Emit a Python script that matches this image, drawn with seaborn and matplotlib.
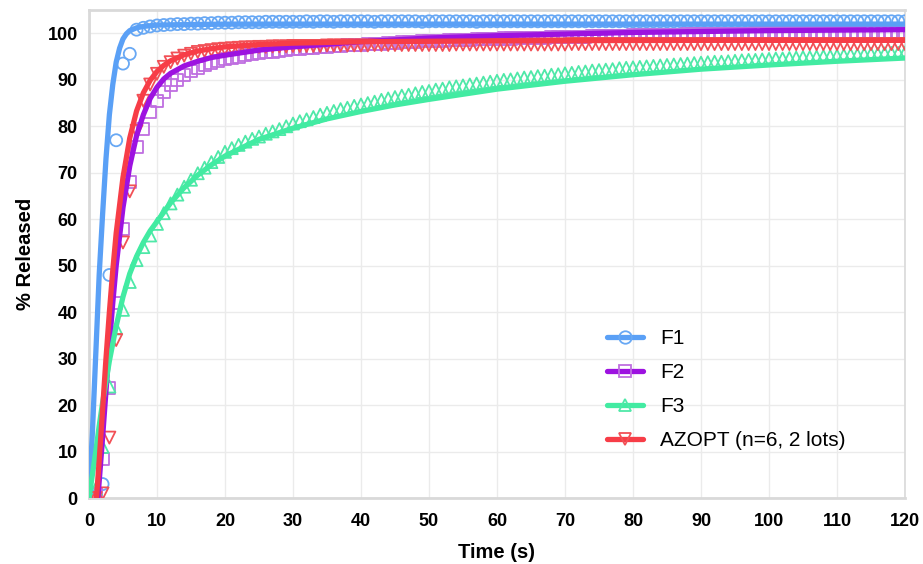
import matplotlib
matplotlib.use("Agg")
import matplotlib.pyplot as plt
from matplotlib.lines import Line2D
import seaborn as sns
import pandas as pd

# ---------------- data ----------------
time_s = list(range(0, 121))

f1_obs = [0, 0.5, 3, 48, 77, 93.5, 95.6, 100.8, 101.2, 101.5,
          101.7, 101.8, 101.9, 102.0, 102.0, 102.1, 102.1, 102.2, 102.2, 102.3,
          102.3, 102.3, 102.4, 102.4, 102.4, 102.4, 102.5, 102.5, 102.5, 102.5,
          102.5, 102.5, 102.6, 102.5, 102.6, 102.6, 102.5, 102.6, 102.6, 102.6,
          102.6, 102.6, 102.5, 102.6, 102.6, 102.6, 102.6, 102.6, 102.6, 102.5,
          102.6, 102.6, 102.6, 102.6, 102.6, 102.6, 102.6, 102.5, 102.6, 102.6,
          102.6, 102.6, 102.6, 102.6, 102.6, 102.6, 102.6, 102.6, 102.6, 102.6,
          102.6, 102.6, 102.6, 102.6, 102.6, 102.6, 102.6, 102.6, 102.6, 102.6,
          102.6, 102.6, 102.6, 102.6, 102.6, 102.6, 102.6, 102.6, 102.6, 102.6,
          102.6, 102.6, 102.6, 102.6, 102.6, 102.6, 102.6, 102.6, 102.6, 102.6,
          102.6, 102.6, 102.6, 102.6, 102.6, 102.6, 102.6, 102.6, 102.6, 102.6,
          102.6, 102.6, 102.6, 102.6, 102.6, 102.6, 102.6, 102.6, 102.6, 102.6,
          102.6]

f2_obs = [0, 0.8, 8.5, 23.7, 42, 58, 68, 75.5, 79.5, 83,
          85.5, 87.3, 88.8, 90.0, 91.0, 91.8, 92.5, 93.1, 93.6, 94.0,
          94.4, 94.7, 95.0, 95.3, 95.5, 95.7, 95.9, 96.1, 96.3, 96.4,
          96.6, 96.7, 96.8, 96.9, 97.0, 97.1, 97.2, 97.3, 97.4, 97.5,
          97.6, 97.7, 97.8, 97.8, 97.9, 98.0, 98.1, 98.1, 98.2, 98.3,
          98.3, 98.4, 98.4, 98.5, 98.5, 98.6, 98.6, 98.7, 98.7, 98.8,
          98.8, 98.9, 98.9, 99.0, 99.0, 99.0, 99.1, 99.1, 99.2, 99.2,
          99.2, 99.3, 99.3, 99.3, 99.4, 99.4, 99.4, 99.5, 99.5, 99.5,
          99.6, 99.6, 99.6, 99.6, 99.7, 99.7, 99.7, 99.7, 99.8, 99.8,
          99.8, 99.8, 99.8, 99.9, 99.9, 99.9, 99.9, 99.9, 100.0, 100.0,
          100.0, 100.0, 100.0, 100.0, 100.0, 100.1, 100.1, 100.1, 100.1, 100.1,
          100.1, 100.1, 100.1, 100.1, 100.2, 100.2, 100.2, 100.2, 100.2, 100.2,
          100.2]

f3_obs = [0, 2, 11, 24, 36.5, 40.5, 46.5, 51.2, 54, 56.5,
          59, 61.3, 63.4, 65.3, 67, 68.5, 69.9, 71.1, 72.3, 73.4,
          74.5, 75.3, 76.0, 76.7, 77.3, 77.8, 78.4, 78.9, 79.4, 80.0,
          80.6, 81.1, 81.5, 82.0, 82.5, 82.9, 83.3, 83.7, 84.0, 84.4,
          84.7, 85.0, 85.3, 85.7, 86.0, 86.3, 86.6, 86.8, 87.1, 87.4,
          87.6, 87.9, 88.1, 88.4, 88.6, 88.8, 89.0, 89.2, 89.4, 89.6,
          89.8, 90.0, 90.1, 90.3, 90.5, 90.6, 90.8, 90.9, 91.1, 91.2,
          91.4, 91.5, 91.7, 91.8, 92.0, 92.1, 92.2, 92.3, 92.5, 92.6,
          92.7, 92.8, 92.9, 93.0, 93.1, 93.2, 93.3, 93.4, 93.5, 93.6,
          93.7, 93.8, 93.9, 93.9, 94.0, 94.1, 94.2, 94.3, 94.3, 94.4,
          94.5, 94.6, 94.6, 94.7, 94.8, 94.9, 94.9, 95.0, 95.1, 95.1,
          95.2, 95.3, 95.4, 95.4, 95.5, 95.6, 95.6, 95.7, 95.8, 95.8,
          95.9]

azopt_obs = [0, 0, 1, 13, 34, 55, 66, 79, 85.5, 89,
             91.3, 92.8, 93.8, 94.6, 95.2, 95.6, 96.0, 96.2, 96.4, 96.6,
             96.7, 96.8, 96.9, 97.0, 97.0, 97.1, 97.1, 97.2, 97.2, 97.2,
             97.3, 97.3, 97.3, 97.3, 97.3, 97.4, 97.4, 97.4, 97.4, 97.4,
             97.4, 97.4, 97.5, 97.5, 97.5, 97.5, 97.5, 97.5, 97.5, 97.5,
             97.5, 97.5, 97.5, 97.5, 97.6, 97.6, 97.6, 97.6, 97.6, 97.6,
             97.6, 97.6, 97.6, 97.6, 97.6, 97.6, 97.6, 97.6, 97.6, 97.6,
             97.6, 97.7, 97.7, 97.7, 97.7, 97.7, 97.7, 97.7, 97.7, 97.7,
             97.7, 97.7, 97.7, 97.7, 97.7, 97.7, 97.7, 97.7, 97.7, 97.7,
             97.7, 97.7, 97.7, 97.7, 97.7, 97.7, 97.7, 97.7, 97.7, 97.7,
             97.7, 97.7, 97.7, 97.7, 97.7, 97.7, 97.7, 97.7, 97.7, 97.7,
             97.7, 97.7, 97.7, 97.7, 97.7, 97.7, 97.7, 97.7, 97.7, 97.7,
             97.7]

# fitted curves
f1_fit_t = [0, 0.5, 1, 1.5, 2, 2.5, 3, 3.5, 4, 4.5, 5, 5.5, 6, 7, 8, 10, 15, 20, 30, 60, 120]
f1_fit_y = [0, 14, 31, 48, 61, 73, 82.5, 89, 93.8, 96.8, 98.8, 99.9, 100.6, 101.2, 101.5, 101.8, 101.9, 102.0, 102.0, 102.0, 102.0]

f2_fit_t = [1.3, 1.5, 2, 2.5, 3, 3.5, 4, 5, 6, 7, 8, 9, 10, 11, 12, 14, 16, 18, 20, 25, 30, 40, 50, 60, 80, 100, 120]
f2_fit_y = [0, 3.5, 13, 23, 33, 42, 50, 62.5, 71.5, 78, 82.5, 86, 88.4, 90.2, 91.4, 93.0, 94.0, 94.8, 95.3, 96.4, 97.1, 98.2, 99.0, 99.5, 100.2, 100.6, 100.8]

f3_fit_t = [0, 0.5, 1, 1.5, 2, 3, 4, 5, 6, 7, 8, 9, 10, 12, 14, 16, 18, 20, 25, 30, 35, 40, 45, 50, 60, 70, 80, 90, 100, 110, 120]
f3_fit_y = [0, 5, 10, 15.5, 20.5, 29.5, 37, 43.3, 48.3, 52, 55, 57.5, 59.5, 63.5, 66.8, 69.5, 71.7, 73.6, 77.2, 79.6, 81.6, 83.2, 84.6, 85.8, 88.0, 89.7, 91.1, 92.3, 93.2, 94.0, 94.7]

azopt_fit_t = [1.1, 1.5, 2, 2.5, 3, 3.5, 4, 5, 6, 7, 8, 9, 10, 11, 12, 14, 16, 18, 20, 25, 30, 40, 60, 90, 120]
azopt_fit_y = [0, 8, 19, 30, 40, 49, 57, 69, 77.5, 83.3, 87.2, 89.9, 91.8, 93.1, 94.1, 95.4, 96.2, 96.7, 97.1, 97.6, 97.9, 98.2, 98.4, 98.5, 98.5]

labels = ["F1", "F2", "F3", "AZOPT (n=6, 2 lots)"]
line_colors = ["#5aa0f6", "#9d12e0", "#42eba2", "#f73d47"]
marker_colors = ["#68a8f4", "#bf6ee0", "#4fe8a8", "#f25056"]
markers = ["o", "s", "^", "v"]

x_ticks = list(range(0, 121, 10))
y_ticks = list(range(0, 101, 10))

# ---------------- plot ----------------
sns.set_theme(style="whitegrid")
plt.rcParams["font.family"] = ["Liberation Sans", "DejaVu Sans"]

fig = plt.figure(figsize=(9.23, 5.64), dpi=100)
ax = fig.add_axes([0.0964, 0.117, 0.8841, 0.865])

obs_sets = [f1_obs, f2_obs, f3_obs, azopt_obs]
fit_sets = [(f1_fit_t, f1_fit_y), (f2_fit_t, f2_fit_y), (f3_fit_t, f3_fit_y), (azopt_fit_t, azopt_fit_y)]

for i in range(4):
    df_o = pd.DataFrame({"t": time_s, "y": obs_sets[i]})
    sns.scatterplot(data=df_o, x="t", y="y", ax=ax, marker=markers[i], s=75,
                    facecolor="none", edgecolor=marker_colors[i], linewidth=1.3,
                    zorder=3, legend=False)
    df_f = pd.DataFrame({"t": fit_sets[i][0], "y": fit_sets[i][1]})
    sns.lineplot(data=df_f, x="t", y="y", ax=ax, color=line_colors[i], linewidth=3.8,
                 zorder=4, legend=False, estimator=None, sort=False)

ax.set_xlim(0, 120)
ax.set_ylim(0, 105)
ax.set_xticks(x_ticks)
ax.set_yticks(y_ticks)
ax.grid(True, color="#ebebeb", linewidth=1.0)
for side in ["left", "bottom", "top", "right"]:
    ax.spines[side].set_visible(True)
    ax.spines[side].set_color("#d9d9d9")
ax.spines["left"].set_linewidth(2.0)
ax.spines["bottom"].set_linewidth(2.0)
ax.spines["top"].set_linewidth(2.0)
ax.spines["right"].set_linewidth(1.2)

ax.tick_params(axis="both", which="major", length=5, width=1, color="#cccccc",
               labelsize=13, labelcolor="black")
ax.tick_params(axis="x", pad=6)
ax.tick_params(axis="y", pad=3)
for lab in ax.get_xticklabels() + ax.get_yticklabels():
    lab.set_fontweight("bold")

ax.set_xlabel("Time (s)", fontsize=14.5, fontweight="bold", labelpad=9, color="black")
ax.set_ylabel("% Released", fontsize=14.5, fontweight="bold", labelpad=9, color="black")

handles = [Line2D([0], [0], color=line_colors[i], linewidth=3.8, marker=markers[i],
                  markersize=9, markerfacecolor="none", markeredgecolor=marker_colors[i],
                  markeredgewidth=1.3) for i in range(4)]
leg = ax.legend(handles, labels, loc="upper left", bbox_to_anchor=(0.612, 0.385),
                frameon=False, fontsize=15, handlelength=1.7, handletextpad=0.85,
                labelspacing=0.72, labelcolor="black")

fig.savefig("out.png", dpi=100)
